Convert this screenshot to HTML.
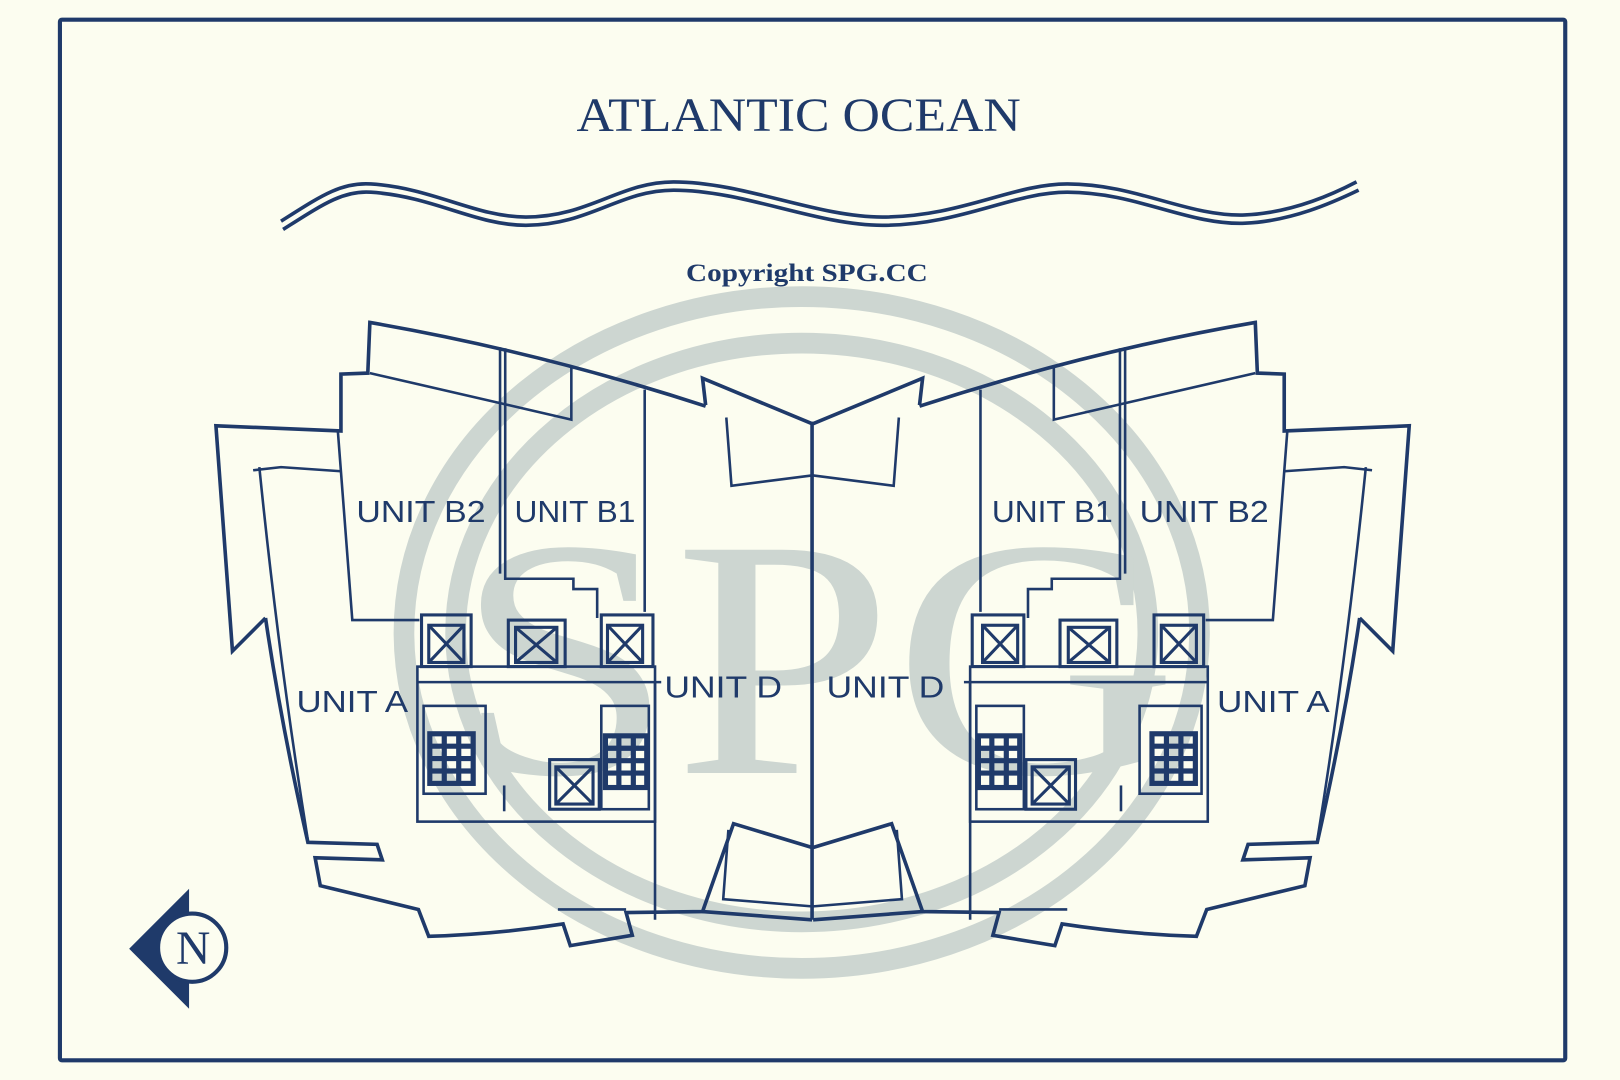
<!DOCTYPE html>
<html><head><meta charset="utf-8"><style>
html,body{margin:0;padding:0;background:#fcfdf0;}
svg{display:block;}
</style></head><body>
<svg width="1620" height="1080" viewBox="0 0 1568 1045" preserveAspectRatio="none" xmlns="http://www.w3.org/2000/svg">
<rect x="0" y="0" width="1568" height="1045" fill="#fcfdf0"/>
<rect x="58" y="19" width="1457" height="1007" fill="none" stroke="#1f3a6a" stroke-width="4" rx="2"/>
<!-- watermark -->
<g fill="none" stroke="#cdd6d1" stroke-width="20">
<ellipse cx="776" cy="612" rx="385" ry="325"/>
<ellipse cx="776" cy="612" rx="335" ry="280"/>
</g>
<text x="790" y="748" text-anchor="middle" font-family="Liberation Serif, serif" font-size="330" fill="#cdd6d1" textLength="700" lengthAdjust="spacingAndGlyphs">SPG</text>

<text x="773" y="127" text-anchor="middle" font-family="Liberation Serif, serif" font-size="46" fill="#1f3a6a" textLength="430" lengthAdjust="spacingAndGlyphs">ATLANTIC OCEAN</text>
<g fill="none" stroke="#1f3a6a" stroke-width="3.5">
<path d="M272,214 C310,190 330,176 359,178 C420,182 460,210 509,210 C570,210 600,176 652,176 C720,176 790,210 854,210 C930,210 980,178 1033,178 C1100,178 1150,210 1205,208 C1250,206 1290,188 1313,176"/>
<path d="M274,222 C312,198 332,184 359,186 C420,190 460,218 509,218 C570,218 600,184 652,184 C720,184 790,218 854,218 C930,218 980,186 1033,186 C1100,186 1150,218 1205,216 C1250,214 1290,196 1315,184"/>
</g>
<text x="781" y="272" text-anchor="middle" font-family="Liberation Serif, serif" font-weight="bold" font-size="25" fill="#1f3a6a" textLength="234" lengthAdjust="spacingAndGlyphs">Copyright SPG.CC</text>

<defs>
<g id="half" fill="none" stroke="#1f3a6a" stroke-linejoin="miter">
 <g stroke-width="3.5">
  <path d="M257,598 L225,630 L209,412 L330,417 L330,362 L356,361 L358,312 Q520,340 683,393"/>
  <path d="M683,392 L680,366 L786,410"/>
  <path d="M257,598 Q272,700 298,815 L365,817 L370,832 L305,830 L310,857 L405,880 L415,906 Q480,904 545,894 L552,915 L612,905 L606,883 L680,882 L710,797 L786,820"/>
  <path d="M680,882 L786,890"/>
 </g>
 <g stroke-width="2.5">
  <path d="M245,455 L272,452 L330,456"/>
  <path d="M251,452 Q270,640 298,813"/>
  <path d="M703,404 L708,470 L786,460"/>
  <path d="M705,803 L700,870 L786,877"/>
  <path d="M358,361 L553,406 L553,355"/>
  <path d="M484,336 L484,555 M489,337 L489,560 L555,560 L555,570 L578,570 L578,598"/>
  <path d="M327,417 L341,600 L406,600"/>
  <path d="M624,377 L624,592"/>
  <path d="M634,660 L634,890"/>
  <path d="M540,880 L606,880"/>
  <rect x="404" y="645" width="230" height="150"/>
  <path d="M404,660 L640,660"/>
  <rect x="410" y="683" width="60" height="85"/>
  <rect x="582" y="683" width="46" height="100"/>
  <path d="M488,760 L488,785"/>
 </g>
 <!-- elevators -->
 <g stroke-width="3">
  <rect x="408" y="595" width="48" height="50"/>
  <rect x="415" y="605" width="34" height="36"/>
  <path d="M415,605 L449,641 M449,605 L415,641"/>
  <rect x="492" y="600" width="55" height="45"/>
  <rect x="499" y="607" width="40" height="34"/>
  <path d="M499,607 L539,641 M539,607 L499,641"/>
  <rect x="582" y="595" width="50" height="50"/>
  <rect x="588" y="605" width="34" height="36"/>
  <path d="M588,605 L622,641 M622,605 L588,641"/>
  <rect x="532" y="735" width="48" height="48"/>
  <rect x="538" y="742" width="36" height="36"/>
  <path d="M538,742 L574,778 M574,742 L538,778"/>
 </g>
 <!-- stairs -->
 <g stroke-width="5">
  <rect x="416" y="710" width="42" height="48"/>
  <path d="M416,722 L458,722 M416,734 L458,734 M416,746 L458,746 M430,710 L430,758 M444,710 L444,758"/>
  <rect x="586" y="712" width="40" height="50"/>
  <path d="M586,724 L626,724 M586,736 L626,736 M586,748 L626,748 M599,712 L599,762 M613,712 L613,762"/>
 </g>
</g>
</defs>
<use href="#half"/>
<use href="#half" transform="translate(1573,0) scale(-1,1)"/>
<path d="M786,408 L786,890" stroke="#1f3a6a" stroke-width="3.5" fill="none"/>

<g font-family="Liberation Sans, sans-serif" font-size="30" fill="#1f3a6a" lengthAdjust="spacingAndGlyphs">
<text x="345" y="505" textLength="125" lengthAdjust="spacingAndGlyphs">UNIT B2</text>
<text x="498" y="505" textLength="117" lengthAdjust="spacingAndGlyphs">UNIT B1</text>
<text x="287" y="689" textLength="108" lengthAdjust="spacingAndGlyphs">UNIT A</text>
<text x="643" y="675" textLength="114" lengthAdjust="spacingAndGlyphs">UNIT D</text>
<text x="800" y="675" textLength="114" lengthAdjust="spacingAndGlyphs">UNIT D</text>
<text x="960" y="505" textLength="117" lengthAdjust="spacingAndGlyphs">UNIT B1</text>
<text x="1103" y="505" textLength="125" lengthAdjust="spacingAndGlyphs">UNIT B2</text>
<text x="1178" y="689" textLength="109" lengthAdjust="spacingAndGlyphs">UNIT A</text>
</g>

<!-- compass -->
<polygon points="125,918 183,860 183,976" fill="#1f3a6a"/>
<circle cx="186" cy="917" r="33" fill="#fcfdf0" stroke="#1f3a6a" stroke-width="4"/>
<text x="187" y="933" text-anchor="middle" font-family="Liberation Serif, serif" font-size="46" fill="#1f3a6a">N</text>
</svg>
</body></html>
